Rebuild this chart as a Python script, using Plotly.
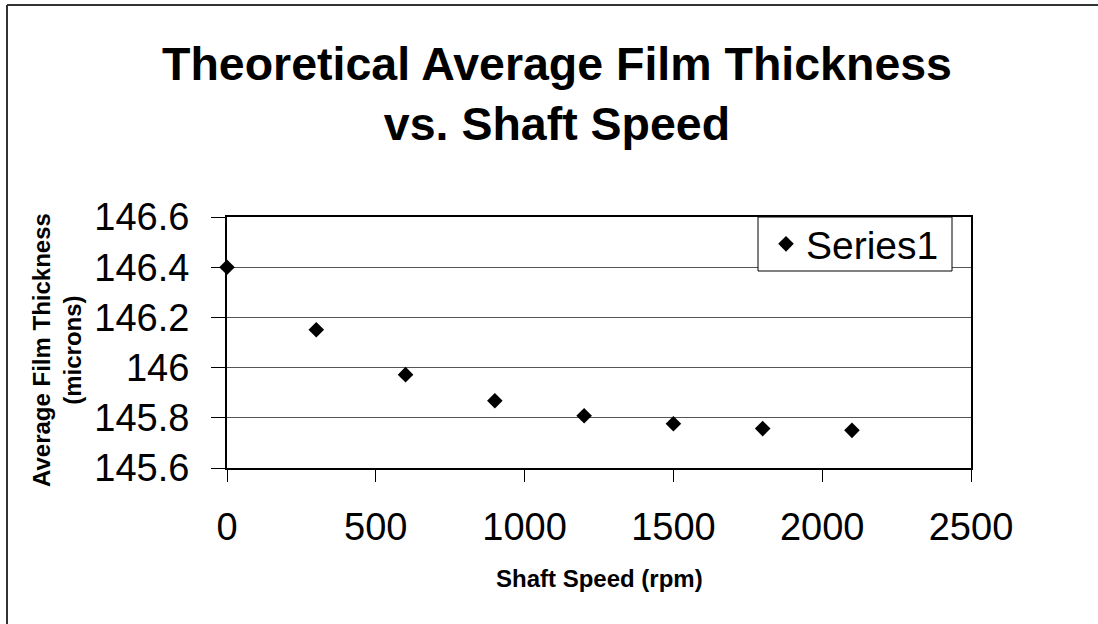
import plotly.graph_objects as go

# Data
shaft_speed_rpm = [0, 300, 600, 900, 1200, 1500, 1800, 2100]
film_thickness_microns = [146.40, 146.151, 145.972, 145.868, 145.808, 145.776, 145.757, 145.750]

x_tick_vals = [0, 500, 1000, 1500, 2000, 2500]
x_tick_text = ["0", "500", "1000", "1500", "2000", "2500"]
y_tick_vals = [145.6, 145.8, 146.0, 146.2, 146.4, 146.6]
y_tick_text = ["145.6", "145.8", "146", "146.2", "146.4", "146.6"]

FONT = "Liberation Sans, Arial, sans-serif"

W, H = 1098, 624
L, R, T, B = 227, 127, 217, 156
pw = W - L - R
ph = H - T - B


def px_x(p):
    return (p - L) / pw


def px_y(p):
    return (H - B - p) / ph


fig = go.Figure()
fig.add_trace(go.Scatter(
    x=shaft_speed_rpm, y=film_thickness_microns,
    mode="markers", name="Series1",
    marker=dict(symbol="diamond", size=12, color="black"),
    cliponaxis=False,
))

fig.update_layout(
    width=W, height=H,
    margin=dict(l=L, r=R, t=T, b=B, pad=0),
    paper_bgcolor="white", plot_bgcolor="white",
    font=dict(family=FONT, color="black"),
    title=dict(
        text="<b>Theoretical Average Film Thickness<br>vs. Shaft Speed</b>",
        font=dict(size=46.5, family=FONT, color="black"),
        x=557 / W, xref="container", xanchor="center",
        y=1 - 80 / H, yref="container", yanchor="middle",
    ),
    xaxis=dict(
        range=[0, 2500], tickvals=x_tick_vals, ticktext=x_tick_text,
        showgrid=False, zeroline=False,
        showline=True, linecolor="black", linewidth=2, mirror=True,
        ticks="outside", ticklen=12, tickcolor="black", tickwidth=1,
        tickfont=dict(size=38, family=FONT), ticklabelstandoff=12,
    ),
    yaxis=dict(
        range=[145.6, 146.6], tickvals=y_tick_vals, ticktext=y_tick_text,
        showgrid=True, gridcolor="#555555", gridwidth=1, zeroline=False,
        showline=True, linecolor="black", linewidth=2, mirror=True,
        ticks="outside", ticklen=14, tickcolor="black", tickwidth=1,
        tickfont=dict(size=38, family=FONT), ticklabelstandoff=14,
    ),
    showlegend=True,
    legend=dict(
        x=px_x(766), y=px_y(244), xanchor="left", yanchor="middle",
        bgcolor="rgba(0,0,0,0)", borderwidth=0,
        font=dict(size=39, family=FONT),
        itemsizing="constant", itemwidth=30,
        tracegroupgap=0,
    ),
    annotations=[
        dict(text="<b>Shaft Speed (rpm)</b>", xref="paper", yref="paper",
             x=0.5, y=px_y(578), xanchor="center", yanchor="middle",
             showarrow=False, font=dict(size=24, family=FONT)),
        dict(text="<b>Average Film Thickness<br>(microns)</b>", xref="paper", yref="paper",
             x=px_x(57), y=px_y(350), xanchor="center", yanchor="middle", textangle=-90,
             showarrow=False, font=dict(size=24, family=FONT)),
    ],
    shapes=[
        # legend box
        dict(type="rect", xref="paper", yref="paper", layer="above",
             x0=px_x(758), x1=px_x(952), y0=px_y(217), y1=px_y(271),
             fillcolor="white", line=dict(color="black", width=1)),
        # chart-area border (top and left)
        dict(type="line", xref="paper", yref="paper",
             x0=px_x(7), x1=px_x(W), y0=px_y(5), y1=px_y(5),
             line=dict(color="#333333", width=2)),
        dict(type="line", xref="paper", yref="paper",
             x0=px_x(7), x1=px_x(7), y0=px_y(5), y1=px_y(H),
             line=dict(color="#333333", width=2)),
    ],
)

fig.write_html("out.html")
